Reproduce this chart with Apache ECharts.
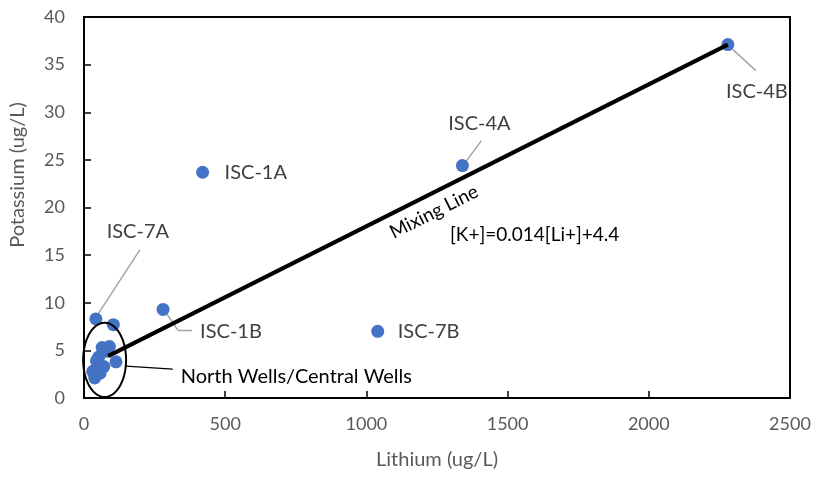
<!DOCTYPE html>
<html>
<head>
<meta charset="utf-8">
<script src="https://cdn.jsdelivr.net/npm/echarts@6/dist/echarts.min.js"></script>
<style>
  html, body { margin: 0; padding: 0; background: #fff; }
  #chart { width: 816px; height: 478px; }
</style>
</head>
<body>
<div id="chart"></div>
<script>
// Lithium vs potassium concentrations in groundwater wells

// labelled wells
const wellNames = ['ISC-4B', 'ISC-4A', 'ISC-1A', 'ISC-7B', 'ISC-1B', 'ISC-7A'];
const wellLithium = [2280, 1340, 420, 1040, 280, 42];
const wellPotassium = [37.1, 24.4, 23.7, 7.0, 9.3, 8.3];

// north / central wells (unlabelled group)
const clusterLithium = [104, 64, 90, 75, 52, 113, 44, 70, 31, 57, 38];
const clusterPotassium = [7.7, 5.3, 5.4, 4.9, 4.3, 3.8, 3.9, 3.3, 2.8, 2.6, 2.1];

// mixing line end points
const mixLithium = [85, 2280];
const mixPotassium = [4.4, 37.1];

// north / central wells outline: centre and half-widths in data units
const groupCentre = [73, 4.0];
const groupRadius = [76, 3.9];

// axis ticks
const xTicks = [0, 500, 1000, 1500, 2000, 2500];
const yTicks = [0, 5, 10, 15, 20, 25, 30, 35, 40];

const FONT = 'Lato';
const BLUE = '#4472C4';

// label placement for each labelled well (pixel offsets from the point)
const labelPlacement = {
  'ISC-4B': { dx: 29, dy: 47, align: 'center', leader: [[5, 5], [28, 26]] },
  'ISC-4A': { dx: 17, dy: -42, align: 'center', leader: [[2, -2], [19, -25]] },
  'ISC-1A': { dx: 22, dy: 0, align: 'left' },
  'ISC-7B': { dx: 20, dy: 0, align: 'left' },
  'ISC-1B': { dx: 37, dy: 22, align: 'left', leader: [[2, 2], [15, 21], [29, 21]] },
  'ISC-7A': { dx: 42, dy: -87, align: 'center', leader: [[1, -3], [44, -69]] }
};

const wellData = wellNames.map((name, i) => {
  const p = labelPlacement[name];
  return {
    name: name,
    value: [wellLithium[i], wellPotassium[i]],
    label: {
      show: true,
      position: 'inside',
      offset: [p.dx, p.dy],
      align: p.align,
      verticalAlign: 'middle',
      formatter: '{b}',
      color: '#404040',
      fontFamily: FONT,
      fontSize: 20
    }
  };
});

const clusterData = clusterLithium.map((x, i) => [x, clusterPotassium[i]]);
const mixData = mixLithium.map((x, i) => [x, mixPotassium[i]]);

const chart = echarts.init(document.getElementById('chart'), null, { renderer: 'canvas' });

chart.setOption({
  animation: false,
  backgroundColor: '#fff',
  grid: {
    left: 84, right: 26, top: 17, bottom: 80,
    show: true, borderColor: '#000', borderWidth: 2
  },
  xAxis: {
    type: 'value',
    min: xTicks[0], max: xTicks[xTicks.length - 1], interval: xTicks[1] - xTicks[0],
    name: 'Lithium (ug/L)',
    nameLocation: 'middle',
    nameGap: 52,
    nameTextStyle: { color: '#595959', fontFamily: FONT, fontSize: 20 },
    axisLine: { lineStyle: { color: '#000', width: 2 } },
    axisTick: { inside: true, length: 7, lineStyle: { color: '#000', width: 1.5 } },
    axisLabel: {
      color: '#595959', fontFamily: FONT, fontSize: 18, margin: 17,
      formatter: v => String(v)
    },
    splitLine: { show: false }
  },
  yAxis: {
    type: 'value',
    min: yTicks[0], max: yTicks[yTicks.length - 1], interval: yTicks[1] - yTicks[0],
    axisLine: { show: true, lineStyle: { color: '#000', width: 2 } },
    axisTick: { show: true, inside: true, length: 7, lineStyle: { color: '#000', width: 1.5 } },
    axisLabel: {
      color: '#595959', fontFamily: FONT, fontSize: 18, margin: 19,
      formatter: v => String(v)
    },
    splitLine: { show: false }
  },
  graphic: [
    {
      type: 'text', x: 18, y: 175, rotation: Math.PI / 2,
      style: {
        text: 'Potassium (ug/L)', fill: '#595959', font: '20px ' + FONT,
        align: 'center', verticalAlign: 'middle'
      }
    },
    {
      type: 'text', x: 434, y: 212, rotation: 0.466,
      style: {
        text: 'Mixing Line', fill: '#000', font: '19px ' + FONT,
        align: 'center', verticalAlign: 'middle'
      }
    },
    {
      type: 'text', x: 450, y: 235,
      style: {
        text: '[K+]=0.014[Li+]+4.4', fill: '#000', font: '19px ' + FONT,
        align: 'left', verticalAlign: 'middle'
      }
    }
  ],
  series: [
    {
      name: 'Wells',
      type: 'scatter',
      symbolSize: 13,
      itemStyle: { color: BLUE, opacity: 1 },
      data: wellData,
      z: 2
    },
    {
      name: 'North / Central Wells',
      type: 'scatter',
      symbolSize: 13,
      itemStyle: { color: BLUE, opacity: 1 },
      data: clusterData,
      z: 2
    },
    {
      // leader lines from labelled wells to their names
      name: 'Leaders',
      type: 'custom',
      data: wellNames.map((n, i) => [wellLithium[i], wellPotassium[i]]),
      renderItem: function (params, api) {
        const p = labelPlacement[wellNames[params.dataIndex]];
        if (!p.leader) return null;
        const c = api.coord([api.value(0), api.value(1)]);
        return {
          type: 'polyline',
          shape: { points: p.leader.map(o => [c[0] + o[0], c[1] + o[1]]) },
          style: { stroke: '#A5A5A5', lineWidth: 1.5, fill: null }
        };
      },
      z: 1,
      silent: true
    },
    {
      name: 'Mixing Line',
      type: 'line',
      data: mixData,
      symbol: 'none',
      lineStyle: { color: '#000', width: 4 },
      z: 3
    },
    {
      // outline around the north / central wells with its caption
      name: 'Group outline',
      type: 'custom',
      data: [groupCentre],
      renderItem: function (params, api) {
        const c = api.coord([api.value(0), api.value(1)]);
        const rx = api.size([groupRadius[0], 0])[0];
        const ry = api.size([0, groupRadius[1]])[1];
        const pts = [];
        for (let k = 0; k < 90; k++) {
          const t = (k / 90) * Math.PI * 2;
          pts.push([c[0] + rx * Math.cos(t), c[1] + ry * Math.sin(t)]);
        }
        const a = 0.17;
        const sx = c[0] + rx * Math.cos(a), sy = c[1] + ry * Math.sin(a);
        return {
          type: 'group',
          children: [
            {
              type: 'polygon', shape: { points: pts },
              style: { stroke: '#000', lineWidth: 2, fill: null }
            },
            {
              type: 'line', shape: { x1: sx, y1: sy, x2: sx + 47, y2: sy + 3 },
              style: { stroke: '#000', lineWidth: 1.3 }
            },
            {
              type: 'text', x: sx + 55, y: sy + 10,
              style: {
                text: 'North Wells/Central Wells', fill: '#000', font: '20px ' + FONT,
                align: 'left', verticalAlign: 'middle'
              }
            }
          ]
        };
      },
      z: 4,
      silent: true
    }
  ]
});
</script>
</body>
</html>
